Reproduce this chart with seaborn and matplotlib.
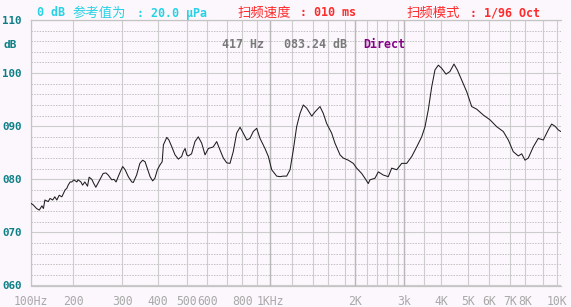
import numpy as np
import pandas as pd
import matplotlib
matplotlib.use("Agg")
import matplotlib.pyplot as plt
import seaborn as sns

# ---------------- data ----------------
freq_hz = [100, 104, 110, 115, 120, 123, 126, 133, 137, 143,
           148, 153, 159, 166, 175, 180, 184, 190, 195, 201,
           206, 208, 213, 216, 220, 225, 228, 233, 237, 241,
           249, 256, 262, 267, 275, 280, 285, 290, 296, 301,
           307, 315, 324, 328, 337, 346, 354, 361, 369, 376,
           384, 391, 399, 407, 414, 418, 429, 436, 446, 457,
           469, 481, 487, 494, 500, 507, 522, 538, 554, 571,
           588, 605, 628, 645, 662, 679, 697, 717, 738, 761,
           784, 806, 830, 852, 875, 900, 924, 961, 987, 1014,
           1056, 1085, 1115, 1146, 1178, 1209, 1240, 1272, 1304, 1338,
           1390, 1428, 1490, 1533, 1578, 1638, 1677, 1738, 1778, 1863,
           1964, 2026, 2106, 2160, 2220, 2255, 2362, 2431, 2530, 2628,
           2689, 2782, 2921, 3057, 3180, 3306, 3437, 3528, 3620, 3718,
           3815, 3917, 4023, 4168, 4303, 4447, 4571, 4737, 4935, 5150,
           5379, 5697, 6031, 6341, 6658, 6913, 7207, 7538, 7769, 8000,
           8177, 8452, 8737, 9040, 9377, 9612, 9852, 10100, 10280]
level_db = [75.5, 75.2, 74.5, 74.2, 75.0, 74.5, 76.1, 75.8, 76.4, 76.1,
            76.7, 76.1, 77.0, 76.7, 78.0, 78.3, 78.9, 79.5, 79.5, 79.9,
            79.5, 79.9, 79.5, 78.9, 79.5, 78.7, 80.4, 80.0, 79.2, 78.5,
            79.9, 81.1, 81.2, 80.8, 79.9, 80.0, 79.5, 80.5, 81.6, 82.4,
            81.8, 80.5, 79.5, 79.4, 80.8, 83.0, 83.6, 83.3, 81.8, 80.5,
            79.7, 80.2, 81.8, 82.7, 83.3, 86.5, 87.9, 87.4, 86.1, 84.6,
            83.8, 84.3, 85.2, 85.8, 84.6, 84.4, 84.8, 87.1, 88.0, 86.8,
            84.6, 85.8, 86.1, 87.1, 85.5, 84.0, 83.1, 83.0, 85.2, 88.7,
            89.8, 88.7, 87.4, 87.7, 89.0, 89.6, 87.7, 85.8, 84.3, 81.8,
            80.6, 80.5, 80.6, 80.6, 81.8, 85.5, 89.9, 92.4, 94.0, 93.4,
            91.9, 92.7, 93.7, 92.4, 90.5, 88.7, 86.8, 84.6, 84.0, 83.6,
            83.0, 82.1, 81.1, 80.2, 79.2, 79.9, 80.2, 81.4, 80.8, 80.5,
            82.1, 81.8, 83.0, 83.0, 84.3, 86.1, 88.0, 89.9, 93.1, 97.4,
            100.6, 101.5, 100.9, 99.8, 100.3, 101.7, 100.6, 98.7, 96.5, 93.7,
            93.2, 92.1, 91.2, 89.9, 89.0, 87.4, 85.2, 84.4, 84.8, 83.6,
            84.0, 86.1, 87.7, 87.4, 89.3, 90.4, 90.0, 89.3, 89.0]

grid_freqs = [100, 200, 300, 400, 500, 600, 700, 800, 900, 1000,
              1200, 1400, 1600, 1800, 2000, 2200, 2400, 2600, 2800, 3000,
              3500, 4000, 5000, 6000, 7000, 8000, 9000, 10000]
grid_labels = ["100Hz", "200", "300", "400", "500", "600", "", "800", "", "1KHz",
               "", "", "", "", "2K", "", "", "", "", "3k",
               "", "4K", "5K", "6K", "7K", "8K", "", "10K"]
major_freqs = [1000, 2000, 3000]
y_ticks = [60, 70, 80, 90, 100, 110]
y_labels = ["060", "070", "080", "090", "100", "110"]
y_minor = [v for v in range(62, 110, 2) if v % 10]

# instrument's (non-uniform) frequency axis: knots of the display scale
knot_f = grid_freqs + [10300]
knot_px = [30.7, 73.3, 122.3, 157.7, 186.7, 207.3, 227.3, 242.3, 256.7, 270.0,
           292.3, 312.7, 328.3, 345.0, 355.0, 367.3, 376.7, 386.7, 397.7, 404.3,
           424.0, 441.0, 468.3, 489.3, 510.0, 525.0, 542.7, 557.0, 561.0]
lf = np.log10(knot_f)
kp = np.array(knot_px)

def fwd(f):
    f = np.clip(np.asarray(f, dtype=float), 1.0, None)
    return np.interp(np.log10(f), lf, kp)

def inv(x):
    return 10 ** np.interp(np.asarray(x, dtype=float), kp, lf)

# ---------------- style ----------------
sns.set_theme(style="white")
plt.rcParams["font.family"] = ["DejaVu Sans Mono", "Noto Sans CJK SC"]

BG = "#FCF7FC"
W, H = 571, 307
fig = plt.figure(figsize=(W / 100, H / 100), dpi=100, facecolor=BG)
ax = fig.add_axes([30.7 / W, 1 - 285.5 / H, (561 - 30.7) / W, (285.5 - 20) / H])
ax.set_facecolor(BG)

df = pd.DataFrame({"freq": freq_hz, "level": level_db})
sns.lineplot(data=df, x="freq", y="level", ax=ax, color="#1E1E1E",
             linewidth=0.75, estimator=None, sort=False, zorder=5)

ax.set_xscale("function", functions=(fwd, inv))
ax.set_xlim(100, 10300)
ax.set_ylim(60, 110)

ax.set_xticks(grid_freqs)
ax.set_xticklabels(grid_labels)
ax.xaxis.set_minor_locator(matplotlib.ticker.NullLocator())
ax.set_yticks(y_ticks)
ax.set_yticklabels(y_labels)
ax.tick_params(axis="x", length=0, pad=7, labelsize=8.3, colors="#A9A9A9")
ax.tick_params(axis="y", length=0, pad=6.5, labelsize=7.8, colors="#0C7F86")
for t in ax.get_yticklabels():
    t.set_fontweight("bold")
ax.set_xlabel("")
ax.set_ylabel("")

ax.grid(True, axis="both", color="#CDCDCD", linewidth=0.8, zorder=1)
for f in major_freqs:
    ax.axvline(f, color="#B8B8B8", linewidth=1.0, zorder=1.2)
for v in y_minor:
    ax.axhline(v, color="#C4C4C4", linewidth=0.7, linestyle=(0, (1.6, 1.2)), zorder=1.1)
ax.set_axisbelow(True)

for s in ["left", "top", "bottom"]:
    ax.spines[s].set_color("#C4C4C4")
    ax.spines[s].set_linewidth(0.9)
ax.spines["right"].set_visible(False)

# ---------------- header texts ----------------
CYAN = "#27D2E4"
RED = "#FF2A2A"
TEAL = "#0C7F86"

def ptext(x, y, s, color, cjk=False, bold=True, size=8.4):
    fam = ["Noto Sans CJK SC", "DejaVu Sans"] if cjk else ["DejaVu Sans Mono", "DejaVu Sans"]
    fig.text(x / W, 1 - y / H, s, color=color, family=fam,
             fontweight=("normal" if cjk else ("bold" if bold else "normal")),
             fontsize=(9.6 if cjk else size), ha="left", va="center")

ptext(37, 13, "0 dB", CYAN)
ptext(73, 12.5, "参考值为", CYAN, cjk=True)
ptext(137, 13, ": 20.0 μPa", CYAN)
ptext(237, 12.5, "扫频速度", RED, cjk=True)
ptext(300, 13, ": 010 ms", RED)
ptext(406, 12.5, "扫频模式", RED, cjk=True)
ptext(470, 13, ": 1/96 Oct", RED)

ptext(222, 44.5, "417 Hz", "#7A7A7A")
ptext(284, 44.5, "083.24 dB", "#7A7A7A")
ptext(363, 44.5, "Direct", "#860086")
ptext(3, 45, "dB", TEAL, size=8.0)

fig.savefig("out.png", dpi=100, facecolor=BG)
